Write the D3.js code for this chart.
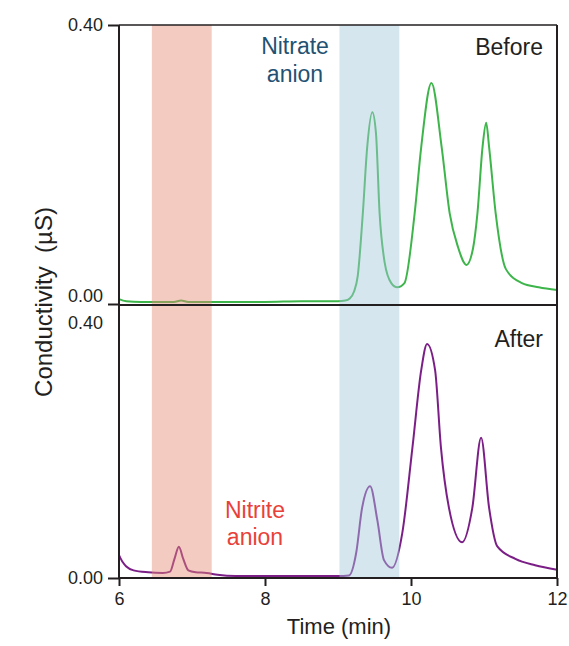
<html>
<head>
    <style>
        body { margin: 0; background: #fff; }
        text { font-family: Arial, "Liberation Sans", sans-serif; fill: #231f20; }
    </style>
</head>
<body>
    <script src="https://d3js.org/d3.v7.min.js"></script>
    <script>
        var width = 569,
            height = 646;

        // chromatograms (time in min, conductivity in uS)
        var beforeTime = [6.00, 6.10, 6.30, 6.60, 6.75, 6.85, 6.95, 7.20, 8.00, 8.50, 9.00, 9.10, 9.16, 9.22, 9.27, 9.34, 9.40, 9.47, 9.52, 9.57, 9.64, 9.73, 9.81, 9.91, 10.05, 10.14, 10.28, 10.42, 10.53, 10.64, 10.76, 10.85, 10.91, 10.98, 11.03, 11.07, 11.16, 11.30, 11.52, 11.75, 12.00];
        var beforeVal = [0.007, 0.004, 0.003, 0.003, 0.003, 0.005, 0.003, 0.003, 0.003, 0.004, 0.004, 0.005, 0.008, 0.018, 0.040, 0.130, 0.225, 0.275, 0.245, 0.130, 0.059, 0.030, 0.024, 0.030, 0.130, 0.225, 0.317, 0.225, 0.130, 0.083, 0.056, 0.080, 0.130, 0.225, 0.260, 0.225, 0.130, 0.050, 0.030, 0.024, 0.020];

        var afterTime = [6.00, 6.05, 6.10, 6.20, 6.40, 6.60, 6.70, 6.76, 6.82, 6.88, 6.95, 7.05, 7.20, 7.35, 7.60, 8.50, 9.00, 9.15, 9.25, 9.33, 9.44, 9.54, 9.63, 9.74, 9.88, 10.02, 10.14, 10.22, 10.33, 10.41, 10.52, 10.70, 10.84, 10.96, 11.07, 11.18, 11.43, 11.70, 12.00];
        var afterVal = [0.036, 0.025, 0.018, 0.012, 0.009, 0.008, 0.010, 0.030, 0.049, 0.030, 0.012, 0.009, 0.008, 0.005, 0.003, 0.003, 0.003, 0.004, 0.040, 0.110, 0.144, 0.090, 0.028, 0.016, 0.070, 0.205, 0.326, 0.367, 0.326, 0.205, 0.110, 0.056, 0.110, 0.220, 0.110, 0.050, 0.030, 0.020, 0.013];

        var xTicks = [6, 8, 10, 12];
        var yTicks = [0, 0.4];
        var nitriteBand = [6.45, 7.27];
        var nitrateBand = [9.02, 9.84];

        var svg = d3.select("body")
            .append("svg")
            .attr("width", width)
            .attr("height", height);

        var x = d3.scaleLinear().domain([6, 12]).range([119, 557]);
        var yTop = d3.scaleLinear().domain([0, 0.4]).range([304, 25]);
        var yBot = d3.scaleLinear().domain([0, 0.4]).range([578, 323]);

        var lineTop = d3.line()
            .x(function (d) { return x(d[0]); })
            .y(function (d) { return yTop(d[1]); })
            .curve(d3.curveMonotoneX);
        var lineBot = d3.line()
            .x(function (d) { return x(d[0]); })
            .y(function (d) { return yBot(d[1]); })
            .curve(d3.curveMonotoneX);

        svg.append("path")
            .datum(d3.zip(beforeTime, beforeVal))
            .attr("d", lineTop)
            .attr("fill", "none")
            .attr("stroke", "#3db54a")
            .attr("stroke-width", 2);

        svg.append("path")
            .datum(d3.zip(afterTime, afterVal))
            .attr("d", lineBot)
            .attr("fill", "none")
            .attr("stroke", "#7b1f87")
            .attr("stroke-width", 2);

        // shaded bands sit over the traces
        svg.append("rect")
            .attr("x", x(nitriteBand[0]))
            .attr("width", x(nitriteBand[1]) - x(nitriteBand[0]))
            .attr("y", yTop(0.4))
            .attr("height", yBot(0) - yTop(0.4))
            .attr("fill", "#e78c73")
            .attr("opacity", 0.45);
        svg.append("rect")
            .attr("x", x(nitrateBand[0]))
            .attr("width", x(nitrateBand[1]) - x(nitrateBand[0]))
            .attr("y", yTop(0.4))
            .attr("height", yBot(0) - yTop(0.4))
            .attr("fill", "#a4c7db")
            .attr("opacity", 0.45);

        // frame
        svg.append("line")
            .attr("x1", x(6)).attr("x2", x(12))
            .attr("y1", yTop(0.4)).attr("y2", yTop(0.4))
            .attr("stroke", "#231f20").attr("stroke-width", 1.5);
        svg.append("line")
            .attr("x1", x(12)).attr("x2", x(12))
            .attr("y1", yTop(0.4)).attr("y2", yBot(0))
            .attr("stroke", "#231f20").attr("stroke-width", 2);
        svg.append("line")
            .attr("x1", x(6)).attr("x2", x(12))
            .attr("y1", yTop(0) + 1).attr("y2", yTop(0) + 1)
            .attr("stroke", "#231f20").attr("stroke-width", 2);

        // axes
        var yAxTop = svg.append("g")
            .attr("transform", "translate(" + x(6) + ",0)")
            .call(d3.axisLeft(yTop).tickValues(yTicks).tickFormat(d3.format(".2f")).tickSize(11).tickPadding(5));
        yAxTop.selectAll("text").filter(function (d) { return d === 0; }).attr("dy", "-0.15em");

        var yAxBot = svg.append("g")
            .attr("transform", "translate(" + x(6) + ",0)")
            .call(d3.axisLeft(yBot).tickValues(yTicks).tickFormat(d3.format(".2f")).tickSize(11).tickPadding(5));
        yAxBot.selectAll("line").filter(function (d) { return d === 0.4; }).remove();

        var xAx = svg.append("g")
            .attr("transform", "translate(0," + yBot(0) + ")")
            .call(d3.axisBottom(x).tickValues(xTicks).tickFormat(d3.format("d")).tickSize(8).tickPadding(6));

        svg.selectAll(".domain").remove();
        svg.selectAll(".tick line").attr("stroke", "#231f20").attr("stroke-width", 2);
        svg.selectAll(".tick text")
            .attr("font-size", 18)
            .attr("font-family", "Arial, 'Liberation Sans', sans-serif")
            .attr("fill", "#231f20");
        svg.append("line")
            .attr("x1", x(6)).attr("x2", x(6))
            .attr("y1", yTop(0.4)).attr("y2", yBot(0))
            .attr("stroke", "#231f20").attr("stroke-width", 2);
        svg.append("line")
            .attr("x1", x(6)).attr("x2", x(12))
            .attr("y1", yBot(0)).attr("y2", yBot(0))
            .attr("stroke", "#231f20").attr("stroke-width", 2);

        // axis titles
        svg.append("text")
            .attr("x", 339).attr("y", 634)
            .attr("text-anchor", "middle")
            .attr("font-size", 22)
            .text("Time (min)");
        svg.append("text")
            .attr("transform", "translate(52,302) rotate(-90)")
            .attr("text-anchor", "middle")
            .attr("font-size", 24)
            .attr("xml:space", "preserve")
            .text("Conductivity  (\u00b5S)");

        // annotations
        svg.append("text").attr("x", 295).attr("y", 54).attr("text-anchor", "middle")
            .attr("font-size", 23).style("fill", "#1f5273").text("Nitrate");
        svg.append("text").attr("x", 295).attr("y", 82).attr("text-anchor", "middle")
            .attr("font-size", 23).style("fill", "#1f5273").text("anion");
        svg.append("text").attr("x", 543).attr("y", 55).attr("text-anchor", "end")
            .attr("font-size", 23).text("Before");
        svg.append("text").attr("x", 543).attr("y", 347).attr("text-anchor", "end")
            .attr("font-size", 23).text("After");
        svg.append("text").attr("x", 255).attr("y", 518).attr("text-anchor", "middle")
            .attr("font-size", 23).style("fill", "#e8413a").text("Nitrite");
        svg.append("text").attr("x", 255).attr("y", 545).attr("text-anchor", "middle")
            .attr("font-size", 23).style("fill", "#e8413a").text("anion");
    </script>
</body>
</html>
